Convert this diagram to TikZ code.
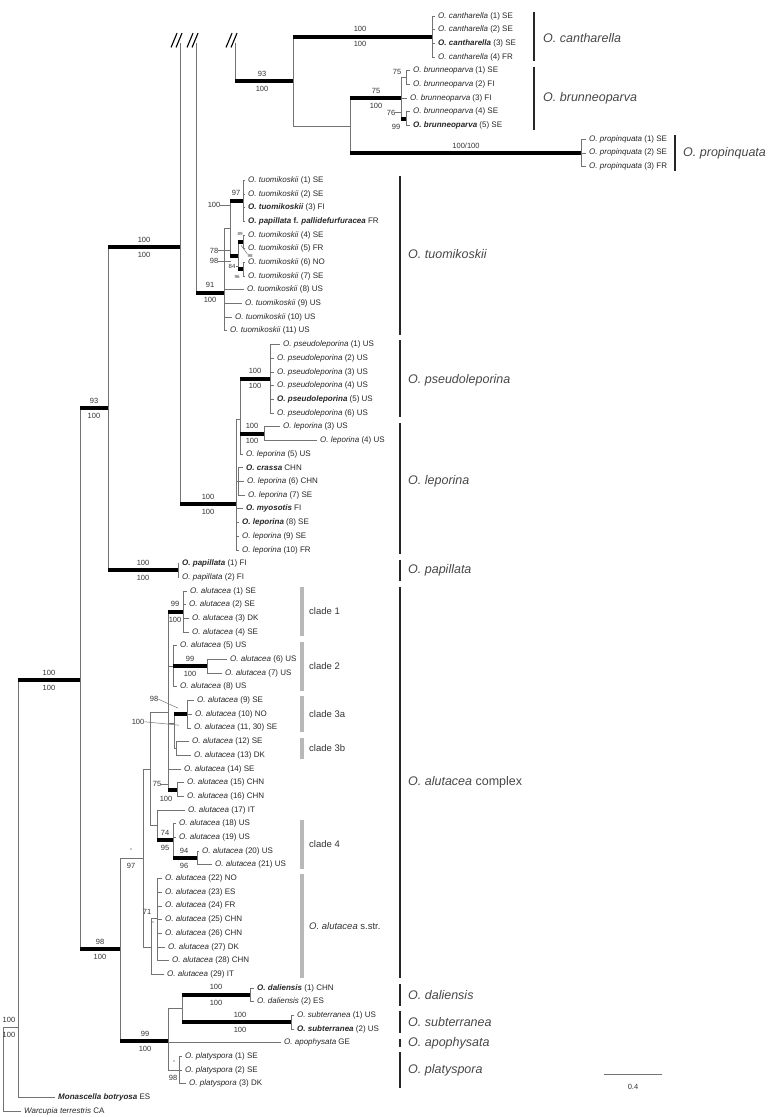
\documentclass[tikz,border=0pt]{standalone}
\usepackage{fontspec}
\setmainfont{Liberation Sans}
\begin{document}
\begin{tikzpicture}[x=1pt,y=-13.69pt,
    br/.style={draw=black!55,line width=0.8pt},
    thk/.style={draw=black,line width=4pt},
    tax/.style={anchor=west,inner xsep=3pt,inner ysep=0pt,font=\fontsize{8}{9}\selectfont,text=black!85},
    sup/.style={inner sep=0pt,font=\fontsize{7.5}{8}\selectfont,text=black!80},
    supsmall/.style={inner sep=0pt,font=\fontsize{6}{6}\selectfont,text=black!80},
    suptiny/.style={inner sep=0pt,font=\fontsize{4.5}{5}\selectfont,text=black!80},
    spbar/.style={draw=black!85,line width=2.8pt},
    clbar/.style={draw=black!28,line width=4pt},
    splab/.style={anchor=west,inner sep=0pt,font=\fontsize{12.5}{14}\selectfont,text=black!72},
    cllab/.style={anchor=west,inner sep=0pt,font=\fontsize{9.5}{11}\selectfont,text=black!80},
    brk/.style={draw=black,line width=1.1pt}]
    \useasboundingbox (0,-1.169) rectangle (768,80.42);

    \node[tax] (l0) at (435,0) {\textit{O. cantharella} (1) SE};
    \node[tax] (l1) at (435,1) {\textit{O. cantharella} (2) SE};
    \node[tax] (l2) at (435,2) {\textbf{\textit{O. cantharella}} (3) SE};
    \node[tax] (l3) at (435,3) {\textit{O. cantharella} (4) FR};
    \node[tax] (l4) at (410,4) {\textit{O. brunneoparva} (1) SE};
    \node[tax] (l5) at (410,5) {\textit{O. brunneoparva} (2) FI};
    \node[tax] (l6) at (407,6) {\textit{O. brunneoparva} (3) FI};
    \node[tax] (l7) at (410,7) {\textit{O. brunneoparva} (4) SE};
    \node[tax] (l8) at (410,8) {\textbf{\textit{O. brunneoparva}} (5) SE};
    \node[tax] (l9) at (586,9) {\textit{O. propinquata} (1) SE};
    \node[tax] (l10) at (586,10) {\textit{O. propinquata} (2) SE};
    \node[tax] (l11) at (586,11) {\textit{O. propinquata} (3) FR};
    \node[tax] (l12) at (245,12) {\textit{O. tuomikoskii} (1) SE};
    \node[tax] (l13) at (245,13) {\textit{O. tuomikoskii} (2) SE};
    \node[tax] (l14) at (245,14) {\textbf{\textit{O. tuomikoskii}} (3) FI};
    \node[tax] (l15) at (245,15) {\textbf{\textit{O. papillata} f. \textit{pallidefurfuracea}} FR};
    \node[tax] (l16) at (245,16) {\textit{O. tuomikoskii} (4) SE};
    \node[tax] (l17) at (245,17) {\textit{O. tuomikoskii} (5) FR};
    \node[tax] (l18) at (245,18) {\textit{O. tuomikoskii} (6) NO};
    \node[tax] (l19) at (245,19) {\textit{O. tuomikoskii} (7) SE};
    \node[tax] (l20) at (244,20) {\textit{O. tuomikoskii} (8) US};
    \node[tax] (l21) at (242,21) {\textit{O. tuomikoskii} (9) US};
    \node[tax] (l22) at (232,22) {\textit{O. tuomikoskii} (10) US};
    \node[tax] (l23) at (227,23) {\textit{O. tuomikoskii} (11) US};
    \node[tax] (l24) at (280,24) {\textit{O. pseudoleporina} (1) US};
    \node[tax] (l25) at (274,25) {\textit{O. pseudoleporina} (2) US};
    \node[tax] (l26) at (274,26) {\textit{O. pseudoleporina} (3) US};
    \node[tax] (l27) at (274,27) {\textit{O. pseudoleporina} (4) US};
    \node[tax] (l28) at (274,28) {\textbf{\textit{O. pseudoleporina}} (5) US};
    \node[tax] (l29) at (274,29) {\textit{O. pseudoleporina} (6) US};
    \node[tax] (l30) at (280,30) {\textit{O. leporina} (3) US};
    \node[tax] (l31) at (317,31) {\textit{O. leporina} (4) US};
    \node[tax] (l32) at (243,32) {\textit{O. leporina} (5) US};
    \node[tax] (l33) at (243,33) {\textbf{\textit{O. crassa}} CHN};
    \node[tax] (l34) at (244,34) {\textit{O. leporina} (6) CHN};
    \node[tax] (l35) at (245,35) {\textit{O. leporina} (7) SE};
    \node[tax] (l36) at (243,36) {\textbf{\textit{O. myosotis}} FI};
    \node[tax] (l37) at (239,37) {\textbf{\textit{O. leporina}} (8) SE};
    \node[tax] (l38) at (239,38) {\textit{O. leporina} (9) SE};
    \node[tax] (l39) at (239,39) {\textit{O. leporina} (10) FR};
    \node[tax] (l40) at (179,40) {\textbf{\textit{O. papillata}} (1) FI};
    \node[tax] (l41) at (179,41) {\textit{O. papillata} (2) FI};
    \node[tax] (l42) at (187,42) {\textit{O. alutacea} (1) SE};
    \node[tax] (l43) at (186,43) {\textit{O. alutacea} (2) SE};
    \node[tax] (l44) at (189,44) {\textit{O. alutacea} (3) DK};
    \node[tax] (l45) at (189,45) {\textit{O. alutacea} (4) SE};
    \node[tax] (l46) at (177,46) {\textit{O. alutacea} (5) US};
    \node[tax] (l47) at (227,47) {\textit{O. alutacea} (6) US};
    \node[tax] (l48) at (222,48) {\textit{O. alutacea} (7) US};
    \node[tax] (l49) at (177,49) {\textit{O. alutacea} (8) US};
    \node[tax] (l50) at (194,50) {\textit{O. alutacea} (9) SE};
    \node[tax] (l51) at (192,51) {\textit{O. alutacea} (10) NO};
    \node[tax] (l52) at (191,52) {\textit{O. alutacea} (11, 30) SE};
    \node[tax] (l53) at (189,53) {\textit{O. alutacea} (12) SE};
    \node[tax] (l54) at (191,54) {\textit{O. alutacea} (13) DK};
    \node[tax] (l55) at (181,55) {\textit{O. alutacea} (14) SE};
    \node[tax] (l56) at (184,56) {\textit{O. alutacea} (15) CHN};
    \node[tax] (l57) at (184,57) {\textit{O. alutacea} (16) CHN};
    \node[tax] (l58) at (185,58) {\textit{O. alutacea} (17) IT};
    \node[tax] (l59) at (176,59) {\textit{O. alutacea} (18) US};
    \node[tax] (l60) at (176,60) {\textit{O. alutacea} (19) US};
    \node[tax] (l61) at (199,61) {\textit{O. alutacea} (20) US};
    \node[tax] (l62) at (212,62) {\textit{O. alutacea} (21) US};
    \node[tax] (l63) at (162,63) {\textit{O. alutacea} (22) NO};
    \node[tax] (l64) at (162,64) {\textit{O. alutacea} (23) ES};
    \node[tax] (l65) at (162,65) {\textit{O. alutacea} (24) FR};
    \node[tax] (l66) at (162,66) {\textit{O. alutacea} (25) CHN};
    \node[tax] (l67) at (162,67) {\textit{O. alutacea} (26) CHN};
    \node[tax] (l68) at (165,68) {\textit{O. alutacea} (27) DK};
    \node[tax] (l69) at (169,69) {\textit{O. alutacea} (28) CHN};
    \node[tax] (l70) at (164,70) {\textit{O. alutacea} (29) IT};
    \node[tax] (l71) at (254,71) {\textbf{\textit{O. daliensis}} (1) CHN};
    \node[tax] (l72) at (254,72) {\textit{O. daliensis} (2) ES};
    \node[tax] (l73) at (294,73) {\textit{O. subterranea} (1) US};
    \node[tax] (l74) at (294,74) {\textbf{\textit{O. subterranea}} (2) US};
    \node[tax] (l75) at (281,75) {\textit{O. apophysata} GE};
    \node[tax] (l76) at (182,76) {\textit{O. platyspora} (1) SE};
    \node[tax] (l77) at (182,77) {\textit{O. platyspora} (2) SE};
    \node[tax] (l78) at (186,78) {\textit{O. platyspora} (3) DK};
    \node[tax] (l79) at (55,79) {\textbf{\textit{Monascella botryosa}} ES};
    \node[tax] (l80) at (21,80) {\textit{Warcupia terrestris} CA};

    \coordinate (nR) at (3,73.9);
    \coordinate (nA) at (18,73.9);
    \coordinate (nIn) at (80,48.5);
    \coordinate (nB) at (108,28.63);
    \coordinate (nC) at (180,16.87);
    \coordinate (nPap) at (178,40.5);
    \coordinate (nLp) at (236,35.65);
    \coordinate (nLq) at (240,29.5);
    \coordinate (nPsl) at (270,26.5);
    \coordinate (nL34) at (264,30.5);
    \coordinate (nCra) at (238,34);
    \coordinate (nT) at (224,20.2);
    \coordinate (nT2) at (230,15.5);
    \coordinate (nT3) at (243,13.5);
    \coordinate (nT4) at (238,17.5);
    \coordinate (nT5) at (243,16.5);
    \coordinate (nT6) at (243,18.5);
    \coordinate (nK) at (293,4.75);
    \coordinate (nCan) at (432,1.5);
    \coordinate (nK2) at (350,8.03);
    \coordinate (nBru) at (401,6);
    \coordinate (nB1) at (406,4.5);
    \coordinate (nB2) at (406,7.5);
    \coordinate (nPro) at (581,10);
    \coordinate (nAlu) at (120,68.15);
    \coordinate (nM) at (143,61.5);
    \coordinate (nM2) at (150,55);
    \coordinate (nM3) at (168,50.9);
    \coordinate (nCl1) at (183,43.5);
    \coordinate (nCl2) at (173,47.5);
    \coordinate (nCl2b) at (207,47.5);
    \coordinate (nC3) at (174,51.65);
    \coordinate (nC3a) at (187,51);
    \coordinate (nC3b) at (176,53.5);
    \coordinate (nC15) at (177,56.5);
    \coordinate (nM4) at (157,59.1);
    \coordinate (nC4) at (173,60.2);
    \coordinate (nC20) at (197,61.5);
    \coordinate (nS0) at (151,68);
    \coordinate (nS1) at (157,65.9);
    \coordinate (nD) at (168,74.87);
    \coordinate (nD0) at (182,72.5);
    \coordinate (nDal) at (250,71.5);
    \coordinate (nSub) at (291,73.5);
    \coordinate (nPla) at (179,77);
    \coordinate (topC) at (180,2);
    \coordinate (topT) at (196,2);
    \coordinate (topK) at (235,2);

    \draw[br] (nR) -- (nR |- l80.west) -- (l80.west);
    \draw[br] (nR) -- (nA);
    \draw[br] (nA |- nIn) -- (nA |- l79.west) -- (l79.west);
    \draw[br] (nIn |- nB) -- (nIn |- nAlu);
    \draw[br] (nB |- nC) -- (nB |- nPap);
    \draw[br] (nPap |- l40.west) -- (nPap |- l41.west);
    \draw[br] (topC) -- (topC |- nLp);
    \draw[br] (topT) -- (topT |- nT);
    \draw[br] (topK) -- (topK |- nK);

    \draw[br] (nK |- nCan) -- (nK |- nK2) -- (nK2);
    \draw[br] (nCan |- l0.west) -- (nCan |- l3.west);
    \draw[br] (nCan |- l0.west) -- (l0.west) (nCan |- l1.west) -- (l1.west) (nCan |- l2.west) -- (l2.west) (nCan |- l3.west) -- (l3.west);
    \draw[br] (nK2 |- nBru) -- (nK2 |- nPro);
    \draw[br] (nBru |- nB1) -- (nBru |- nB2);
    \draw[br] (nBru |- nB1) -- (nB1) (nBru |- l6.west) -- (l6.west);
    \draw[br] (nB1 |- l4.west) -- (nB1 |- l5.west);
    \draw[br] (nB1 |- l4.west) -- (l4.west) (nB1 |- l5.west) -- (l5.west);
    \draw[br] (nB2 |- l7.west) -- (nB2 |- l8.west);
    \draw[br] (nB2 |- l7.west) -- (l7.west) (nB2 |- l8.west) -- (l8.west);
    \draw[br] (nPro |- l9.west) -- (nPro |- l11.west);
    \draw[br] (nPro |- l9.west) -- (l9.west) (nPro |- l10.west) -- (l10.west) (nPro |- l11.west) -- (l11.west);

    \draw[br] (nT |- nT2) -- (nT |- l23.west);
    \draw[br] (nT |- nT2) -- (nT2);
    \draw[br] (nT |- l20.west) -- (l20.west) (nT |- l21.west) -- (l21.west) (nT |- l22.west) -- (l22.west) (nT |- l23.west) -- (l23.west);
    \draw[br] (nT2 |- nT3) -- (nT2 |- nT4);
    \draw[br] (nT3 |- l12.west) -- (nT3 |- l15.west);
    \draw[br] (nT3 |- l12.west) -- (l12.west) (nT3 |- l13.west) -- (l13.west) (nT3 |- l14.west) -- (l14.west) (nT3 |- l15.west) -- (l15.west);
    \draw[br] (nT4 |- nT5) -- (nT4 |- nT6);
    \draw[br] (nT5 |- l16.west) -- (nT5 |- l17.west);
    \draw[br] (nT5 |- l16.west) -- (l16.west) (nT5 |- l17.west) -- (l17.west);
    \draw[br] (nT6 |- l18.west) -- (nT6 |- l19.west);
    \draw[br] (nT6 |- l18.west) -- (l18.west) (nT6 |- l19.west) -- (l19.west);

    \draw[br] (nLp |- nLq) -- (nLp |- l39.west);
    \draw[br] (nLp |- nLq) -- (nLq) (nLp |- nCra) -- (nCra);
    \draw[br] (nLp |- l36.west) -- (l36.west) (nLp |- l37.west) -- (l37.west) (nLp |- l38.west) -- (l38.west) (nLp |- l39.west) -- (l39.west);
    \draw[br] (nLq |- nPsl) -- (nLq |- l32.west) -- (l32.west);
    \draw[br] (nPsl |- l24.west) -- (nPsl |- l29.west);
    \draw[br] (nPsl |- l24.west) -- (l24.west) (nPsl |- l25.west) -- (l25.west) (nPsl |- l26.west) -- (l26.west) (nPsl |- l27.west) -- (l27.west) (nPsl |- l28.west) -- (l28.west) (nPsl |- l29.west) -- (l29.west);
    \draw[br] (nL34 |- l30.west) -- (nL34 |- l31.west);
    \draw[br] (nL34 |- l30.west) -- (l30.west) (nL34 |- l31.west) -- (l31.west);
    \draw[br] (nCra |- l33.west) -- (nCra |- l35.west);
    \draw[br] (nCra |- l33.west) -- (l33.west) (nCra |- l34.west) -- (l34.west) (nCra |- l35.west) -- (l35.west);
    \draw[br] (nPap |- l40.west) -- (l40.west) (nPap |- l41.west) -- (l41.west);

    \draw[br] (nAlu |- nM) -- (nAlu |- nD);
    \draw[br] (nAlu |- nM) -- (nM);
    \draw[br] (nM |- nM2) -- (nM |- nS0) -- (nS0);
    \draw[br] (nM |- nM2) -- (nM2);
    \draw[br] (nM2 |- nM3) -- (nM2 |- nM4);
    \draw[br] (nM2 |- nM3) -- (nM3) (nM2 |- nM4) -- (nM4);
    \draw[br] (nM3 |- nCl1) -- (nM3 |- nC15);
    \draw[br] (nM3 |- nCl2) -- (nCl2) (nM3 |- nC3) -- (nC3) (nM3 |- l55.west) -- (l55.west);
    \draw[br] (nCl1 |- l42.west) -- (nCl1 |- l45.west);
    \draw[br] (nCl1 |- l42.west) -- (l42.west) (nCl1 |- l43.west) -- (l43.west) (nCl1 |- l44.west) -- (l44.west) (nCl1 |- l45.west) -- (l45.west);
    \draw[br] (nCl2 |- l46.west) -- (nCl2 |- l49.west);
    \draw[br] (nCl2 |- l46.west) -- (l46.west) (nCl2 |- l49.west) -- (l49.west);
    \draw[br] (nCl2b |- l47.west) -- (nCl2b |- l48.west);
    \draw[br] (nCl2b |- l47.west) -- (l47.west) (nCl2b |- l48.west) -- (l48.west);
    \draw[br] (nC3 |- nC3a) -- (nC3 |- nC3b) -- (nC3b);
    \draw[br] (nC3a |- l50.west) -- (nC3a |- l52.west);
    \draw[br] (nC3a |- l50.west) -- (l50.west) (nC3a |- l51.west) -- (l51.west) (nC3a |- l52.west) -- (l52.west);
    \draw[br] (nC3b |- l53.west) -- (nC3b |- l54.west);
    \draw[br] (nC3b |- l53.west) -- (l53.west) (nC3b |- l54.west) -- (l54.west);
    \draw[br] (nC15 |- l56.west) -- (nC15 |- l57.west);
    \draw[br] (nC15 |- l56.west) -- (l56.west) (nC15 |- l57.west) -- (l57.west);
    \draw[br] (nM4 |- l58.west) -- (nM4 |- nC4);
    \draw[br] (nM4 |- l58.west) -- (l58.west);
    \draw[br] (nC4 |- l59.west) -- (nC4 |- nC20);
    \draw[br] (nC4 |- l59.west) -- (l59.west) (nC4 |- l60.west) -- (l60.west);
    \draw[br] (nC20 |- l61.west) -- (nC20 |- l62.west);
    \draw[br] (nC20 |- l61.west) -- (l61.west) (nC20 |- l62.west) -- (l62.west);
    \draw[br] (nS0 |- nS1) -- (nS0 |- l70.west) -- (l70.west);
    \draw[br] (nS0 |- nS1) -- (nS1);
    \draw[br] (nS1 |- l63.west) -- (nS1 |- l69.west);
    \draw[br] (nS1 |- l63.west) -- (l63.west) (nS1 |- l64.west) -- (l64.west) (nS1 |- l65.west) -- (l65.west) (nS1 |- l66.west) -- (l66.west) (nS1 |- l67.west) -- (l67.west) (nS1 |- l68.west) -- (l68.west) (nS1 |- l69.west) -- (l69.west);

    \draw[br] (nD |- nD0) -- (nD |- nPla);
    \draw[br] (nD |- nD0) -- (nD0) (nD |- l75.west) -- (l75.west) (nD |- nPla) -- (nPla);
    \draw[br] (nD0 |- nDal) -- (nD0 |- nSub);
    \draw[br] (nDal |- l71.west) -- (nDal |- l72.west);
    \draw[br] (nDal |- l71.west) -- (l71.west) (nDal |- l72.west) -- (l72.west);
    \draw[br] (nSub |- l73.west) -- (nSub |- l74.west);
    \draw[br] (nSub |- l73.west) -- (l73.west) (nSub |- l74.west) -- (l74.west);
    \draw[br] (nPla |- l76.west) -- (nPla |- l78.west);
    \draw[br] (nPla |- l76.west) -- (l76.west) (nPla |- l77.west) -- (l77.west) (nPla |- l78.west) -- (l78.west);

    \draw[thk] (nA |- nIn) -- (nIn);
    \draw[thk] (nIn |- nB) -- (nB);
    \draw[thk] (nB |- nC) -- (nC);
    \draw[thk] (nB |- nPap) -- (nPap);
    \draw[thk] (nC |- nLp) -- (nLp);
    \draw[thk] (topT |- nT) -- (nT);
    \draw[thk] (nT2 |- nT3) -- (nT3);
    \draw[thk] (nT2 |- nT4) -- (nT4);
    \draw[thk] (nT4 |- nT5) -- (nT5);
    \draw[thk] (nT4 |- nT6) -- (nT6);
    \draw[thk] (topK |- nK) -- (nK);
    \draw[thk] (nK |- nCan) -- (nCan);
    \draw[thk] (nK2 |- nBru) -- (nBru);
    \draw[thk] (nBru |- nB2) -- (nB2);
    \draw[thk] (nK2 |- nPro) -- (nPro);
    \draw[thk] (nLq |- nPsl) -- (nPsl);
    \draw[thk] (nLq |- nL34) -- (nL34);
    \draw[thk] (nIn |- nAlu) -- (nAlu);
    \draw[thk] (nM3 |- nCl1) -- (nCl1);
    \draw[thk] (nCl2 |- nCl2b) -- (nCl2b);
    \draw[thk] (nC3 |- nC3a) -- (nC3a);
    \draw[thk] (nM3 |- nC15) -- (nC15);
    \draw[thk] (nM4 |- nC4) -- (nC4);
    \draw[thk] (nC4 |- nC20) -- (nC20);
    \draw[thk] (nAlu |- nD) -- (nD);
    \draw[thk] (nD0 |- nDal) -- (nDal);
    \draw[thk] (nD0 |- nSub) -- (nSub);

    \draw[brk] ([shift={(-9,0.3)}]topC) -- ([shift={(-3,-0.75)}]topC);
    \draw[brk] ([shift={(-4,0.3)}]topC) -- ([shift={(2,-0.75)}]topC);
    \draw[brk] ([shift={(-9,0.3)}]topT) -- ([shift={(-3,-0.75)}]topT);
    \draw[brk] ([shift={(-4,0.3)}]topT) -- ([shift={(2,-0.75)}]topT);
    \draw[brk] ([shift={(-9,0.3)}]topK) -- ([shift={(-3,-0.75)}]topK);
    \draw[brk] ([shift={(-4,0.3)}]topK) -- ([shift={(2,-0.75)}]topK);

    \node[sup] (sRa) at (9,73.35) {100};
    \node[sup] (sRb) at (9,74.45) {100};
    \node[sup] (sIna) at (49,47.95) {100};
    \node[sup] (sInb) at (49,49.05) {100};
    \node[sup] (sBa) at (94,28.08) {93};
    \node[sup] (sBb) at (94,29.18) {100};
    \node[sup] (sCa) at (144,16.32) {100};
    \node[sup] (sCb) at (144,17.42) {100};
    \node[sup] (sPapa) at (143,39.95) {100};
    \node[sup] (sPapb) at (143,41.05) {100};
    \node[sup] (sLpa) at (208,35.1) {100};
    \node[sup] (sLpb) at (208,36.2) {100};
    \node[sup] (sPsla) at (255,25.95) {100};
    \node[sup] (sPslb) at (255,27.05) {100};
    \node[sup] (sL34a) at (252,29.95) {100};
    \node[sup] (sL34b) at (252,31.05) {100};
    \node[sup] (sTa) at (210,19.65) {91};
    \node[sup] (sTb) at (210,20.75) {100};
    \node[sup] (sT3a) at (236,12.95) {97};
    \node[sup] (sT3b) at (214,13.8) {100};
    \draw[br] (sT3b.east) -- (nT2 |- sT3b);
    \node[sup] (sT4a) at (214,17.15) {78};
    \draw[br] (sT4a.east) -- (nT2 |- sT4a);
    \node[sup] (sT4b) at (214,17.9) {98};
    \draw[br] (sT4b.east) -- ([xshift=1pt]nT2 |- sT4b);
    \node[suptiny] (sT5a) at (240,15.95) {89};
    \node[suptiny] (sT5b) at (250,17.5) {98};
    \coordinate (sT5c) at (241,16.75);
    \draw[br,line width=0.5pt] (sT5b.north west) -- (sT5c);
    \node[supsmall] (sT6a) at (232,18.3) {84};
    \draw[br] (sT6a.east) -- (nT4 |- sT6a);
    \node[suptiny] (sT6b) at (237,19.05) {96};
    \node[sup] (sKa) at (262,4.2) {93};
    \node[sup] (sKb) at (262,5.3) {100};
    \node[sup] (sCana) at (360,0.95) {100};
    \node[sup] (sCanb) at (360,2.05) {100};
    \node[sup] (sBrua) at (376,5.45) {75};
    \node[sup] (sBrub) at (376,6.55) {100};
    \node[sup] (sB1) at (397,4.1) {75};
    \node[sup] (sB2a) at (391,7.05) {76};
    \draw[br] (sB2a.east) -- (nBru |- sB2a);
    \node[sup] (sB2b) at (396,8.1) {99};
    \node[sup] (sPro) at (466,9.45) {100/100};
    \node[sup] (sAlua) at (100,67.6) {98};
    \node[sup] (sAlub) at (100,68.7) {100};
    \node[sup] (sMa) at (131,60.95) {-};
    \node[sup] (sMb) at (131,62.05) {97};
    \node[sup] (sCl1a) at (175,42.95) {99};
    \node[sup] (sCl1b) at (175,44.1) {100};
    \node[sup] (sCl2a) at (190,46.95) {99};
    \node[sup] (sCl2b) at (190,48.05) {100};
    \node[sup] (sC3a) at (154,49.9) {98};
    \coordinate (sC3ap) at (178,50.55);
    \draw[br,line width=0.5pt] (sC3a.east) -- (sC3ap);
    \node[sup] (sC3) at (138,51.55) {100};
    \coordinate (sC3p) at (179,51.8);
    \draw[br,line width=0.5pt] (sC3.east) -- (sC3p);
    \node[sup] (sC15a) at (157,56.1) {75};
    \draw[br] (sC15a.east) -- (nM3 |- sC15a);
    \node[sup] (sC15b) at (166,57.15) {100};
    \node[sup] (sC4a) at (165,59.65) {74};
    \node[sup] (sC4b) at (165,60.75) {95};
    \node[sup] (sC20a) at (184,60.95) {94};
    \node[sup] (sC20b) at (184,62.05) {96};
    \node[sup] (sS1a) at (147,65.45) {71};
    \node[sup] (sS1b) at (153,66.3) {-};
    \node[sup] (sDa) at (145,74.32) {99};
    \node[sup] (sDb) at (145,75.42) {100};
    \node[sup] (sDala) at (216,70.95) {100};
    \node[sup] (sDalb) at (216,72.05) {100};
    \node[sup] (sSuba) at (240,72.95) {100};
    \node[sup] (sSubb) at (240,74.05) {100};
    \node[sup] (sPlaa) at (174,76.45) {-};
    \node[sup] (sPlab) at (173,77.55) {98};

    \draw[spbar] (534,-0.3) -- (534,3.3);
    \node[splab] (tCan) at (543,1.6) {\textit{O. cantharella}};
    \draw[spbar] (534,3.7) -- (534,8.3);
    \node[splab] (tBru) at (543,6) {\textit{O. brunneoparva}};
    \draw[spbar] (675,8.7) -- (675,11.3);
    \node[splab] (tPro) at (683,10) {\textit{O. propinquata}};
    \draw[spbar] (400,11.7) -- (400,23.3);
    \node[splab] (tTuo) at (408,17.4) {\textit{O. tuomikoskii}};
    \draw[spbar] (400,23.7) -- (400,29.3);
    \node[splab] (tPsl) at (408,26.6) {\textit{O. pseudoleporina}};
    \draw[spbar] (400,29.7) -- (400,39.3);
    \node[splab] (tLep) at (408,34) {\textit{O. leporina}};
    \draw[spbar] (400,39.7) -- (400,41.3);
    \node[splab] (tPap) at (408,40.5) {\textit{O. papillata}};
    \draw[spbar] (400,41.7) -- (400,70.3);
    \node[splab] (tAlu) at (408,56) {\textit{O. alutacea} complex};
    \draw[spbar] (400,70.7) -- (400,72.3);
    \node[splab] (tDal) at (408,71.5) {\textit{O. daliensis}};
    \draw[spbar] (400,72.7) -- (400,74.3);
    \node[splab] (tSub) at (408,73.5) {\textit{O. subterranea}};
    \draw[spbar] (400,74.7) -- (400,75.3);
    \node[splab] (tApo) at (408,75) {\textit{O. apophysata}};
    \draw[spbar] (400,75.7) -- (400,78.3);
    \node[splab] (tPla) at (408,77) {\textit{O. platyspora}};

    \draw[clbar] (302,41.7) -- (302,45.3);
    \node[cllab] (c1) at (309,43.5) {clade 1};
    \draw[clbar] (302,45.7) -- (302,49.3);
    \node[cllab] (c2) at (309,47.5) {clade 2};
    \draw[clbar] (302,49.7) -- (302,52.3);
    \node[cllab] (c3a) at (309,51) {clade 3a};
    \draw[clbar] (302,52.7) -- (302,54.3);
    \node[cllab] (c3b) at (309,53.5) {clade 3b};
    \draw[clbar] (302,58.7) -- (302,62.3);
    \node[cllab] (c4) at (309,60.5) {clade 4};
    \draw[clbar] (302,62.7) -- (302,70.3);
    \node[cllab] (cs) at (309,66.5) {\textit{O. alutacea} s.str.};

    \coordinate (scA) at (604,77.3);
    \coordinate (scB) at (662,77.3);
    \draw[br] (scA) -- (scB);
    \node[sup] (sc) at (633,78.2) {0.4};
\end{tikzpicture}
\end{document}
